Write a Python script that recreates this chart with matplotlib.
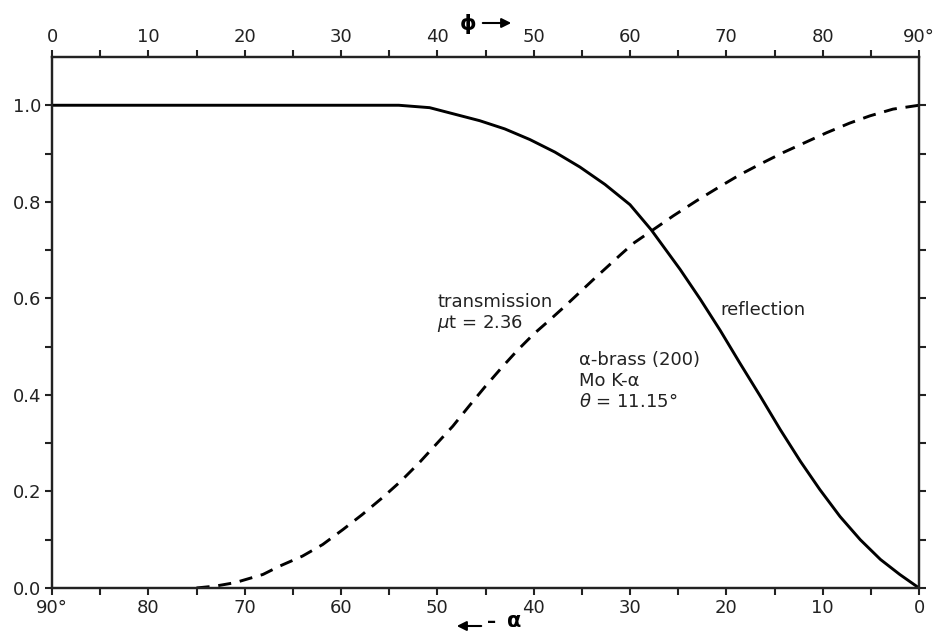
import numpy as np
import matplotlib.pyplot as plt
from matplotlib.patches import FancyArrowPatch

# valeurs (phi en degrés)
phi_reflexion = [0, 10, 20, 30, 34, 36, 39.2, 44.4, 47.0, 49.6, 52.2, 54.8, 57.4, 60.0,
                 62.2, 65.2, 67.3, 69.35, 71.4, 73.5, 75.6, 77.7, 79.7, 81.8, 83.9,
                 86.0, 88.0, 90]
reflexion = [1.0, 1.0, 1.0, 1.0, 1.0, 1.0, 0.995, 0.968, 0.951, 0.929, 0.903, 0.872,
             0.836, 0.794, 0.742, 0.660, 0.598, 0.534, 0.466, 0.398, 0.328, 0.262,
             0.204, 0.148, 0.100, 0.059, 0.028, 0.0]

phi_transmission = [15, 17, 19, 21.9, 23.6, 26.0, 28.1, 30.2, 32.2, 34.3, 36.2, 38.1,
                    39.8, 41.6, 43.3, 45.0, 46.7, 48.3, 50.0, 51.6, 53.1, 56.2, 59.0,
                    60.35, 62.25, 64.5, 66.9, 69.2, 71.4, 73.5, 75.9, 78.2, 80.4,
                    82.8, 84.9, 87.3, 90]
transmission = [0.0, 0.004, 0.011, 0.028, 0.045, 0.066, 0.090, 0.121, 0.152, 0.187,
                0.221, 0.259, 0.296, 0.335, 0.377, 0.418, 0.457, 0.492, 0.526, 0.554,
                0.581, 0.639, 0.690, 0.714, 0.740, 0.771, 0.802, 0.830, 0.856, 0.878,
                0.902, 0.923, 0.943, 0.963, 0.978, 0.992, 1.0]

ticks_phi = list(range(0, 91, 10))
labels_haut = [str(v) for v in ticks_phi[:-1]] + ["90°"]
labels_bas = ["90°"] + [str(90 - v) for v in ticks_phi[1:]]

plt.rcParams["font.family"] = ["DejaVu Sans"]

fig = plt.figure(figsize=(9.37, 6.31), dpi=100)
ax = fig.add_axes([0.0555, 0.0682, 0.9253, 0.8415])

ax.plot(phi_reflexion, reflexion, color="black", lw=2.1)
ax.plot(phi_transmission, transmission, color="black", lw=2.1, dashes=(4.5, 3))

ax.set_xlim(0, 90)
ax.set_ylim(0, 1.1)

ax.set_xticks(ticks_phi)
ax.set_xticks(range(5, 90, 10), minor=True)
ax.set_xticklabels(labels_bas)
ax.set_yticks([0, 0.2, 0.4, 0.6, 0.8, 1.0])
ax.set_yticklabels(["0.0", "0.2", "0.4", "0.6", "0.8", "1.0"])
ax.set_yticks(np.arange(0.1, 1.1, 0.2), minor=True)

ax.tick_params(axis="both", which="both", direction="out", length=5, width=1.5,
               labelsize=13, color="#222222", labelcolor="#222222")
ax.tick_params(axis="x", which="both", pad=3)
ax.tick_params(axis="y", which="both", right=True, pad=3)

ax2 = ax.twiny()
ax2.set_xlim(0, 90)
ax2.set_xticks(ticks_phi)
ax2.set_xticks(range(5, 90, 10), minor=True)
ax2.set_xticklabels(labels_haut)
ax2.tick_params(axis="x", which="both", direction="out", length=5, width=1.5,
                labelsize=13, pad=3, color="#222222", labelcolor="#222222")

for a in (ax, ax2):
    for s in a.spines.values():
        s.set_linewidth(1.6)
        s.set_color("#222222")

ax.text(40.0, 0.612, "transmission\n$\\mu$t = 2.36", fontsize=13, va="top",
        ha="left", color="#222222", linespacing=1.15)
ax.text(69.4, 0.575, "reflection", fontsize=13, va="center", ha="left", color="#222222")
ax.text(54.7, 0.49, "α-brass (200)\nMo K-α\n$\\theta$ = 11.15°", fontsize=13,
        va="top", ha="left", color="#222222", linespacing=1.2)

# étiquettes des axes avec flèches
fig.text(468 / 937, 1 - 24 / 631, "ϕ", fontsize=15, fontweight="bold",
         ha="center", va="center")
fig.patches.append(FancyArrowPatch(
    (480 / 937, 1 - 23 / 631), (514 / 937, 1 - 23 / 631), transform=fig.transFigure,
    arrowstyle="-|>", mutation_scale=14, lw=1.5, color="black"))

fig.text(487 / 937, 4 / 631, "–", fontsize=13, fontweight="bold",
         ha="left", va="baseline")
fig.text(507 / 937, 4 / 631, "α", fontsize=15, fontweight="bold",
         ha="left", va="baseline")
fig.patches.append(FancyArrowPatch(
    (484 / 937, 1 - 626 / 631), (454 / 937, 1 - 626 / 631), transform=fig.transFigure,
    arrowstyle="-|>", mutation_scale=14, lw=1.5, color="black"))

fig.savefig("out.png", dpi=100)
plt.close()
